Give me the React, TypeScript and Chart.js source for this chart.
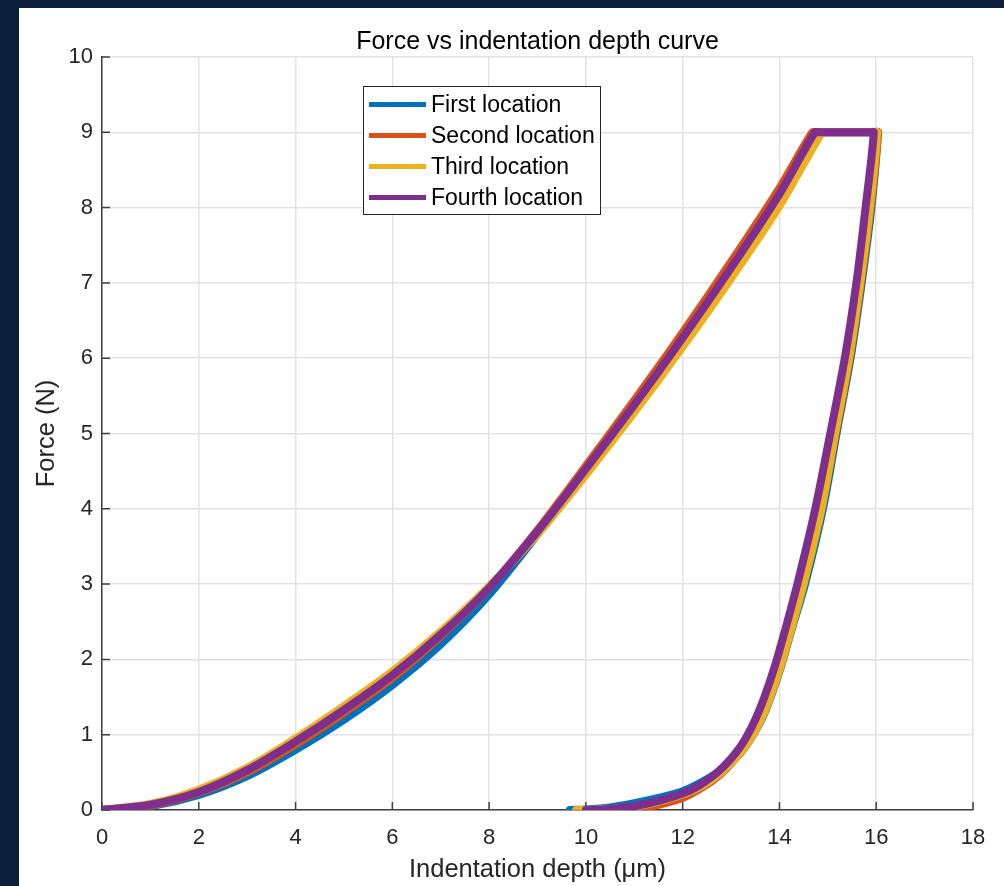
import React, { useEffect, useRef } from "react";
import { Chart, registerables } from "chart.js";

Chart.register(...registerables);

const seriesNames = ["First location", "Second location", "Third location", "Fourth location"];
const seriesColors = ["#0072BD", "#D95319", "#EDB120", "#7E2F8E"];

const xTickValues = [0, 2, 4, 6, 8, 10, 12, 14, 16, 18];
const yTickValues = [0, 1, 2, 3, 4, 5, 6, 7, 8, 9, 10];

const firstDepth = [0, 1, 2, 3, 4, 5, 6, 7, 8, 9, 10, 11, 12, 13, 14, 14.8, 14.87, 15.96, 16.03, 15.9, 15.7, 15.47, 15.18, 14.9, 14.53, 14.23, 14.03, 13.83, 13.63, 13.42, 13.2, 12.9, 12.5, 12.0, 11.5, 11.0, 10.5, 10.0, 9.67];
const firstForce = [0, 0.05, 0.2, 0.45, 0.8, 1.2, 1.66, 2.2, 2.86, 3.66, 4.5, 5.36, 6.25, 7.18, 8.15, 9.0, 9.0, 9.0, 9.0, 8, 7, 6, 5, 4, 3, 2.35, 1.9, 1.52, 1.2, 0.96, 0.76, 0.58, 0.41, 0.25, 0.16, 0.09, 0.035, 0.008, 0];

const secondDepth = [0, 1, 2, 3, 4, 5, 6, 7, 8, 9, 10, 11, 12, 13, 14, 14.68, 14.75, 15.97, 16.04, 15.88, 15.68, 15.45, 15.16, 14.86, 14.49, 14.18, 13.98, 13.78, 13.58, 13.38, 13.17, 12.9, 12.62, 12.3, 12.0, 11.5, 11.0, 10.5, 10.3];
const secondForce = [0, 0.06, 0.23, 0.5, 0.87, 1.29, 1.75, 2.31, 2.95, 3.72, 4.57, 5.44, 6.34, 7.28, 8.26, 9.0, 9.0, 9.0, 9.0, 8, 7, 6, 5, 4, 3, 2.35, 1.9, 1.52, 1.2, 0.95, 0.75, 0.55, 0.39, 0.26, 0.16, 0.07, 0.02, 0.004, 0];

const thirdDepth = [0, 1, 2, 3, 4, 5, 6, 7, 8, 9, 10, 11, 12, 13, 14, 14.88, 14.95, 15.95, 16.02, 15.87, 15.67, 15.44, 15.15, 14.87, 14.5, 14.22, 14.02, 13.82, 13.62, 13.42, 13.22, 12.96, 12.7, 12.4, 12.05, 11.5, 11.0, 10.5, 10.0, 9.8];
const thirdForce = [0, 0.08, 0.27, 0.56, 0.95, 1.38, 1.84, 2.37, 2.97, 3.66, 4.45, 5.28, 6.15, 7.06, 8.02, 9.0, 9.0, 9.0, 9.0, 8, 7, 6, 5, 4, 3, 2.35, 1.9, 1.52, 1.2, 0.96, 0.78, 0.6, 0.45, 0.32, 0.22, 0.11, 0.045, 0.012, 0, 0];

const fourthDepth = [0, 1, 2, 3, 4, 5, 6, 7, 8, 9, 10, 11, 12, 13, 14, 14.73, 14.8, 15.88, 15.95, 15.78, 15.59, 15.35, 15.05, 14.74, 14.37, 14.1, 13.9, 13.7, 13.5, 13.3, 13.1, 12.85, 12.6, 12.3, 12.0, 11.5, 11.0, 10.5, 10.0];
const fourthForce = [0, 0.07, 0.24, 0.53, 0.91, 1.33, 1.79, 2.33, 2.95, 3.7, 4.53, 5.38, 6.27, 7.2, 8.18, 9.0, 9.0, 9.0, 9.0, 8, 7, 6, 5, 4, 3, 2.35, 1.9, 1.52, 1.2, 0.95, 0.76, 0.58, 0.44, 0.31, 0.22, 0.12, 0.05, 0.015, 0];

const depthSeries = [firstDepth, secondDepth, thirdDepth, fourthDepth];
const forceSeries = [firstForce, secondForce, thirdForce, fourthForce];

const FONT = "'Liberation Sans', Arial, Helvetica, sans-serif";
const TEXT = "#262626";

const tickMarksPlugin = {
  id: "tickMarks",
  beforeDatasetsDraw(chart: any) {
    const { ctx, chartArea, scales } = chart;
    ctx.save();
    ctx.strokeStyle = "#404040";
    ctx.lineWidth = 1.5;
    ctx.beginPath();
    xTickValues.forEach((v) => {
      const px = scales.x.getPixelForValue(v);
      ctx.moveTo(px, chartArea.bottom);
      ctx.lineTo(px, chartArea.bottom - 8);
    });
    yTickValues.forEach((v) => {
      const py = scales.y.getPixelForValue(v);
      ctx.moveTo(chartArea.left, py);
      ctx.lineTo(chartArea.left + 8, py);
    });
    ctx.stroke();
    ctx.restore();
  },
};

const boxLegendPlugin = {
  id: "boxLegend",
  afterDraw(chart: any) {
    const { ctx, chartArea } = chart;
    const left = chartArea.left + 261;
    const top = chartArea.top + 29;
    const w = 237;
    const h = 128;
    ctx.save();
    ctx.fillStyle = "#ffffff";
    ctx.fillRect(left, top, w, h);
    ctx.strokeStyle = "#262626";
    ctx.lineWidth = 1;
    ctx.strokeRect(left + 0.5, top + 0.5, w, h);
    ctx.font = `23px ${FONT}`;
    ctx.textBaseline = "middle";
    ctx.textAlign = "left";
    seriesNames.forEach((name, i) => {
      const y = top + 18.5 + i * 31;
      ctx.strokeStyle = seriesColors[i];
      ctx.lineWidth = 5;
      ctx.beginPath();
      ctx.moveTo(left + 6, y);
      ctx.lineTo(left + 63, y);
      ctx.stroke();
      ctx.fillStyle = "#000000";
      ctx.fillText(name, left + 68, y + 1);
    });
    ctx.restore();
  },
};

export default function App() {
  const ref = useRef<HTMLCanvasElement>(null);

  useEffect(() => {
    const canvas = ref.current;
    if (!canvas) return;
    const datasets = seriesNames.map((name, i) => ({
      label: name,
      data: depthSeries[i].map((d, j) => ({ x: d, y: forceSeries[i][j] })),
      borderColor: seriesColors[i],
      backgroundColor: seriesColors[i],
      borderWidth: 8,
      pointRadius: 0,
      showLine: true,
      tension: 0.3,
      borderJoinStyle: "round" as const,
      borderCapStyle: "round" as const,
      order: 4 - i,
    }));

    const chart = new Chart(canvas, {
      type: "scatter",
      data: { datasets },
      plugins: [tickMarksPlugin, boxLegendPlugin],
      options: {
        animation: false,
        responsive: false,
        devicePixelRatio: 1,
        layout: { padding: { left: 0, right: 31, top: 0, bottom: 0 } },
        plugins: {
          legend: { display: false },
          tooltip: { enabled: false },
          title: {
            display: true,
            fullSize: false,
            text: "Force vs indentation depth curve",
            color: "#000000",
            font: { family: FONT, size: 25, weight: "normal" },
            padding: { top: 19, bottom: 0 },
          },
        },
        scales: {
          x: {
            type: "linear",
            min: 0,
            max: 18,
            afterBuildTicks: (s: any) => {
              s.ticks = xTickValues.map((v) => ({ value: v }));
            },
            afterFit: (s: any) => {
              s.height = 76;
            },
            grid: { color: "#e2e2e2", lineWidth: 1.5, drawTicks: false },
            border: { display: true, color: "#404040", width: 1.5 },
            ticks: {
              color: TEXT,
              font: { family: FONT, size: 22 },
              padding: 15,
              maxRotation: 0,
            },
            title: {
              display: true,
              text: "Indentation depth (μm)",
              color: TEXT,
              font: { family: FONT, size: 25.5 },
              padding: { top: 0, bottom: 1 },
            },
          },
          y: {
            type: "linear",
            min: 0,
            max: 10,
            afterBuildTicks: (s: any) => {
              s.ticks = yTickValues.map((v) => ({ value: v }));
            },
            afterFit: (s: any) => {
              s.width = 83;
            },
            grid: { color: "#e2e2e2", lineWidth: 1.5, drawTicks: false },
            border: { display: true, color: "#404040", width: 1.5 },
            ticks: {
              color: TEXT,
              font: { family: FONT, size: 22 },
              padding: 9,
            },
            title: {
              display: true,
              text: "Force (N)",
              color: TEXT,
              font: { family: FONT, size: 25.5 },
              padding: { top: 13, bottom: 0 },
            },
          },
        },
      },
    });
    return () => chart.destroy();
  }, []);

  return (
    <div
      style={{
        position: "fixed",
        left: 0,
        top: 0,
        width: 1004,
        height: 886,
        background: "#0c203d",
      }}
    >
      <div
        style={{
          position: "absolute",
          left: 19,
          top: 8,
          width: 985,
          height: 878,
          background: "#ffffff",
        }}
      >
        <canvas ref={ref} width={985} height={878} style={{ display: "block" }} />
      </div>
    </div>
  );
}
